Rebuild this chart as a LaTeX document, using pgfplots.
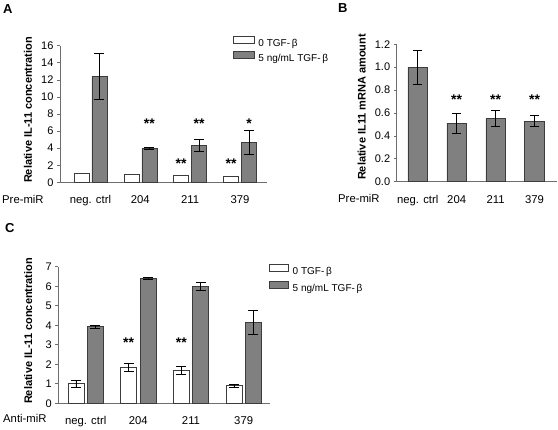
\documentclass[border=0pt]{standalone}
\usepackage{fontspec}
\setmainfont{Liberation Sans}
\usepackage{pgfplots}
\pgfplotsset{compat=1.18}

\definecolor{barg}{RGB}{128,128,128}
\definecolor{edge}{RGB}{60,60,60}
\definecolor{axc}{RGB}{110,110,110}

\tikzset{sig/.style={font=\bfseries\fontsize{14}{16}\selectfont, anchor=base, yshift=-8pt, inner sep=0pt}}

\pgfplotsset{
 panel/.style={
  scale only axis,
  axis x line=bottom, axis y line=left,
  axis line style={-, axc, line width=0.7pt},
  ymin=0,
  xtick={0,1,2,3},
  xticklabels={neg. ctrl,204,211,379},
  tick align=outside,
  major tick length=3pt,
  xtick style={draw=none},
  ytick style={axc, line width=0.6pt},
  /pgf/number format/assume math mode=true,
  tick label style={font=\fontsize{11}{13}\selectfont},
  x tick label style={anchor=base, yshift=-18.7pt, font=\fontsize{11.3}{13}\selectfont},
  ylabel style={font=\bfseries\fontsize{11}{13}\selectfont, anchor=center},
  legend cell align=left,
  legend style={draw=none, fill=none, font=\fontsize{10}{12}\selectfont, inner sep=0pt,
    nodes={inner sep=1pt}, /tikz/every odd column/.append style={column sep=3pt}},
 },
 lgA/.style={legend image code/.code={\draw[##1,/tikz/.cd] (0pt,0pt) rectangle (21pt,7pt);}},
 lgC/.style={legend image code/.code={\draw[##1,/tikz/.cd] (0pt,0pt) rectangle (19pt,7pt);}},
 eb/.style={error bars/.cd, y dir=both, y explicit,
   error bar style={black, line width=0.6pt},
   error mark options={rotate=90, mark size=#1, black, line width=0.6pt}},
 eb/.default=5pt,
}

\begin{document}
\begin{tikzpicture}[x=1pt,y=1pt]
\path[use as bounding box] (0,0) rectangle (558,430);

% ---------------- Panel A ----------------
\node[font=\bfseries\fontsize{13}{15}\selectfont, anchor=north west, inner sep=0pt] at (3,426) {A};
\begin{axis}[panel, at={(60pt,247.7pt)}, anchor=south west,
  width=207pt, height=136.6pt,
  xmin=-0.61, xmax=3.54, ymax=16, ytick={0,2,...,16},
  ybar=3pt, bar width=15pt,
  ylabel={Relative IL-11 concentration},
  ylabel style={at={(axis description cs:-0.155,0.53)}},
  legend style={at={(axis description cs:0.834,1.071)}, anchor=north west, row sep=2.6pt},
]
\addplot[fill=white, draw=edge, line width=0.6pt, lgA] coordinates {(0,1.0) (1,0.95) (2,0.8) (3,0.7)};
\addplot[fill=barg, draw=edge, line width=0.6pt, lgA, eb] coordinates {
 (0,12.4) +- (0,2.7)
 (1,4.0) +- (0,0.1)
 (2,4.3) +- (0,0.7)
 (3,4.7) +- (0,1.4)};
\legend{0 TGF-\,β, 5 ng/mL TGF-\,β}
\node[sig, xshift=9pt] at (axis cs:1,7.2) {**};
\node[sig, xshift=-9pt] at (axis cs:2,2.5) {**};
\node[sig, xshift=9pt] at (axis cs:2,7.2) {**};
\node[sig, xshift=-9pt] at (axis cs:3,2.5) {**};
\node[sig, xshift=9pt] at (axis cs:3,7.2) {*};
\end{axis}
\node[anchor=base west, font=\fontsize{11.3}{13}\selectfont, inner sep=0pt] at (2,226) {Pre-miR};

% ---------------- Panel B ----------------
\node[font=\bfseries\fontsize{13}{15}\selectfont, anchor=north west, inner sep=0pt] at (338,427) {B};
\begin{axis}[panel, at={(396.7pt,248.3pt)}, anchor=south west,
  width=160pt, height=137.4pt,
  xmin=-0.54, xmax=3.57, ymax=1.2, ytick={0,0.2,...,1.2},
  yticklabel style={/pgf/number format/.cd, fixed, fixed zerofill, precision=1},
  ybar, bar width=19.5pt,
  ylabel={Relative IL11 mRNA amount},
  ylabel style={at={(axis description cs:-0.219,0.544)}},
]
\addplot[fill=barg, draw=edge, line width=0.6pt, eb=4.5pt] coordinates {
 (0,1.0) +- (0,0.15)
 (1,0.51) +- (0,0.085)
 (2,0.55) +- (0,0.07)
 (3,0.53) +- (0,0.05)};
\node[sig] at (axis cs:1,0.742) {**};
\node[sig] at (axis cs:2,0.742) {**};
\node[sig] at (axis cs:3,0.742) {**};
\end{axis}
\node[anchor=base west, font=\fontsize{11.3}{13}\selectfont, inner sep=0pt] at (338,227) {Pre-miR};

% ---------------- Panel C ----------------
\node[font=\bfseries\fontsize{13}{15}\selectfont, anchor=north west, inner sep=0pt] at (5,207) {C};
\begin{axis}[panel, at={(58.3pt,26.7pt)}, anchor=south west,
  width=211.7pt, height=136.6pt,
  xmin=-0.52, xmax=3.5, ymax=7, ytick={0,1,...,7},
  ybar=3.5pt, bar width=16pt,
  ylabel={Relative IL-11 concentration},
  ylabel style={at={(axis description cs:-0.142,0.53)}},
  legend style={at={(axis description cs:0.995,1.02)}, anchor=north west, row sep=4.6pt},
]
\addplot[fill=white, draw=edge, line width=0.6pt, lgC, eb] coordinates {
 (0,1.0) +- (0,0.17)
 (1,1.85) +- (0,0.22)
 (2,1.7) +- (0,0.2)
 (3,0.9) +- (0,0.07)};
\addplot[fill=barg, draw=edge, line width=0.6pt, lgC, eb] coordinates {
 (0,3.93) +- (0,0.08)
 (1,6.4) +- (0,0.07)
 (2,6.0) +- (0,0.22)
 (3,4.15) +- (0,0.63)};
\legend{0 TGF-\,β, 5 ng/mL TGF-\,β}
\node[sig, xshift=-9.75pt] at (axis cs:1,3.28) {**};
\node[sig, xshift=9.75pt] at (axis cs:1,7.2) {***};
\node[sig, xshift=-9.75pt] at (axis cs:2,3.28) {**};
\node[sig, xshift=9.75pt] at (axis cs:2,7.2) {***};
\end{axis}
\node[anchor=base west, font=\fontsize{11.3}{13}\selectfont, inner sep=0pt] at (3,7) {Anti-miR};
\end{tikzpicture}
\end{document}
